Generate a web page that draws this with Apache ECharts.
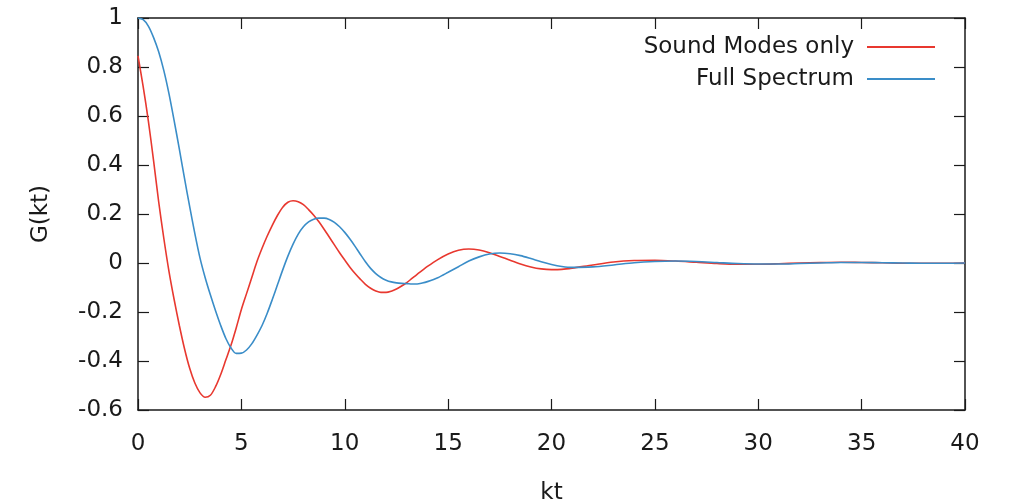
<!DOCTYPE html>
<html>
<head>
<meta charset="utf-8">
<script src="https://cdn.jsdelivr.net/npm/echarts@6/dist/echarts.min.js"></script>
<style>
  html, body { margin: 0; padding: 0; background: #ffffff; }
  #chart { width: 1015px; height: 504px; }
</style>
</head>
<body>
<div id="chart"></div>
<script>
// Sample positions along kt (finer where the curves swing hardest)
const ktValues = [
  0, 0.25, 0.5, 0.75, 1, 1.25, 1.5, 1.75, 2, 2.25, 2.5, 2.75, 3, 3.25, 3.5, 3.75,
  4, 4.25, 4.5, 4.75, 5, 5.25, 5.5, 5.75, 6, 6.25, 6.5, 6.75, 7, 7.25, 7.5, 7.75,
  8, 8.25, 8.5, 8.75, 9, 9.25, 9.5, 9.75, 10, 10.25, 10.5, 10.75, 11, 11.25, 11.5, 11.75,
  12, 12.25, 12.5, 12.75, 13, 13.25, 13.5, 13.75, 14,
  14.5, 15, 15.5, 16, 16.5, 17, 17.5, 18, 18.5, 19, 19.5, 20, 20.5, 21,
  22, 23, 24, 25, 26, 27, 28, 29, 30, 31, 32, 33, 34, 35, 36, 37, 38, 39, 40
];

// G(kt) from sound modes only
const soundModes = [
  0.845, 0.72, 0.58, 0.42, 0.25, 0.10, -0.035, -0.15, -0.255, -0.35, -0.43, -0.49, -0.53, -0.548, -0.54, -0.505,
  -0.455, -0.395, -0.335, -0.265, -0.19, -0.125, -0.06, 0.005, 0.06, 0.11, 0.155, 0.195, 0.228, 0.248, 0.254, 0.25,
  0.238, 0.218, 0.195, 0.168, 0.138, 0.106, 0.074, 0.042, 0.012, -0.017, -0.043, -0.066, -0.087, -0.103, -0.114, -0.12,
  -0.12, -0.115, -0.106, -0.094, -0.08, -0.063, -0.046, -0.03, -0.014,
  0.014, 0.037, 0.052, 0.057, 0.053, 0.042, 0.027, 0.011, -0.004, -0.016, -0.024, -0.027, -0.026, -0.021,
  -0.008, 0.004, 0.01, 0.011, 0.008, 0.003, -0.002, -0.005, -0.005, -0.003, 0.0, 0.002, 0.003, 0.002, 0.001, -0.001, -0.001, -0.001, 0
];

// G(kt) from the full spectrum
const fullSpectrum = [
  1.0, 0.993, 0.967, 0.921, 0.862, 0.785, 0.69, 0.58, 0.465, 0.345, 0.23, 0.12, 0.02, -0.06, -0.13, -0.195,
  -0.255, -0.308, -0.347, -0.369, -0.368, -0.355, -0.33, -0.295, -0.255, -0.205, -0.148, -0.088, -0.028, 0.028, 0.077, 0.118,
  0.148, 0.168, 0.179, 0.183, 0.183, 0.178, 0.166, 0.148, 0.125, 0.098, 0.068, 0.036, 0.005, -0.022, -0.043, -0.059,
  -0.07, -0.077, -0.081, -0.083, -0.084, -0.086, -0.086, -0.082, -0.076,
  -0.06, -0.038, -0.015, 0.008, 0.025, 0.037, 0.041, 0.038, 0.03, 0.018, 0.005, -0.006, -0.014, -0.018,
  -0.016, -0.008, 0.001, 0.006, 0.008, 0.006, 0.002, -0.002, -0.004, -0.004, -0.002, 0, 0.002, 0.002, 0.001, 0, -0.001, -0.001, 0
];

const xTicks = { min: 0, max: 40, interval: 5 };
const yTicks = { min: -0.6, max: 1, interval: 0.2 };

const FONT = 'DejaVu Sans';
const INK = '#1a1a1a';
const FS = 23;

const pairs = (ys) => ktValues.map((x, i) => [x, ys[i]]);

// Each side of the frame is its own axis with inward ticks
const frameAxis = (extra) => Object.assign({
  type: 'value',
  axisLine: { show: true, onZero: false, lineStyle: { color: INK, width: 1.5 } },
  axisTick: { show: true, inside: true, length: 11, lineStyle: { color: INK, width: 1.2 } },
  splitLine: { show: false }
}, extra);

const chart = echarts.init(document.getElementById('chart'), null, { renderer: 'canvas' });

chart.setOption({
  animation: false,
  backgroundColor: '#ffffff',
  grid: { left: 138, right: 50, top: 18, bottom: 94, containLabel: false, outerBoundsMode: 'none' },
  legend: {
    orient: 'vertical',
    right: 80,
    top: 35,
    padding: 0,
    align: 'right',
    icon: 'rect',
    itemWidth: 68,
    itemHeight: 2,
    itemGap: 8,
    textStyle: { fontFamily: FONT, fontSize: FS, color: INK, lineHeight: 24, padding: [0, 8, 0, 0] },
    data: ['Sound Modes only', 'Full Spectrum']
  },
  xAxis: [
    frameAxis({
      position: 'bottom',
      min: xTicks.min, max: xTicks.max, interval: xTicks.interval,
      name: 'kt', nameLocation: 'middle', nameGap: 72,
      nameTextStyle: { fontFamily: FONT, fontSize: FS, color: INK },
      axisLabel: { fontFamily: FONT, fontSize: FS, color: INK, margin: 23 }
    }),
    frameAxis({
      position: 'top',
      min: xTicks.min, max: xTicks.max, interval: xTicks.interval,
      axisLabel: { show: false }
    })
  ],
  yAxis: [
    frameAxis({
      position: 'left',
      min: yTicks.min, max: yTicks.max, interval: yTicks.interval,
      name: 'G(kt)', nameLocation: 'middle', nameGap: 85,
      nameTextStyle: { fontFamily: FONT, fontSize: FS, color: INK },
      axisLabel: { fontFamily: FONT, fontSize: FS, color: INK, margin: 15 }
    }),
    frameAxis({
      position: 'right',
      min: yTicks.min, max: yTicks.max, interval: yTicks.interval,
      axisLabel: { show: false }
    })
  ],
  series: [
    {
      name: 'Sound Modes only',
      type: 'line',
      xAxisIndex: 0, yAxisIndex: 0,
      data: pairs(soundModes),
      smooth: 0.3,
      symbol: 'none',
      lineStyle: { color: '#e8382f', width: 1.6 },
      itemStyle: { color: '#e8382f' }
    },
    {
      name: 'Full Spectrum',
      type: 'line',
      xAxisIndex: 0, yAxisIndex: 0,
      data: pairs(fullSpectrum),
      smooth: 0.3,
      symbol: 'none',
      lineStyle: { color: '#3a8dc8', width: 1.6 },
      itemStyle: { color: '#3a8dc8' }
    }
  ]
});
</script>
</body>
</html>
